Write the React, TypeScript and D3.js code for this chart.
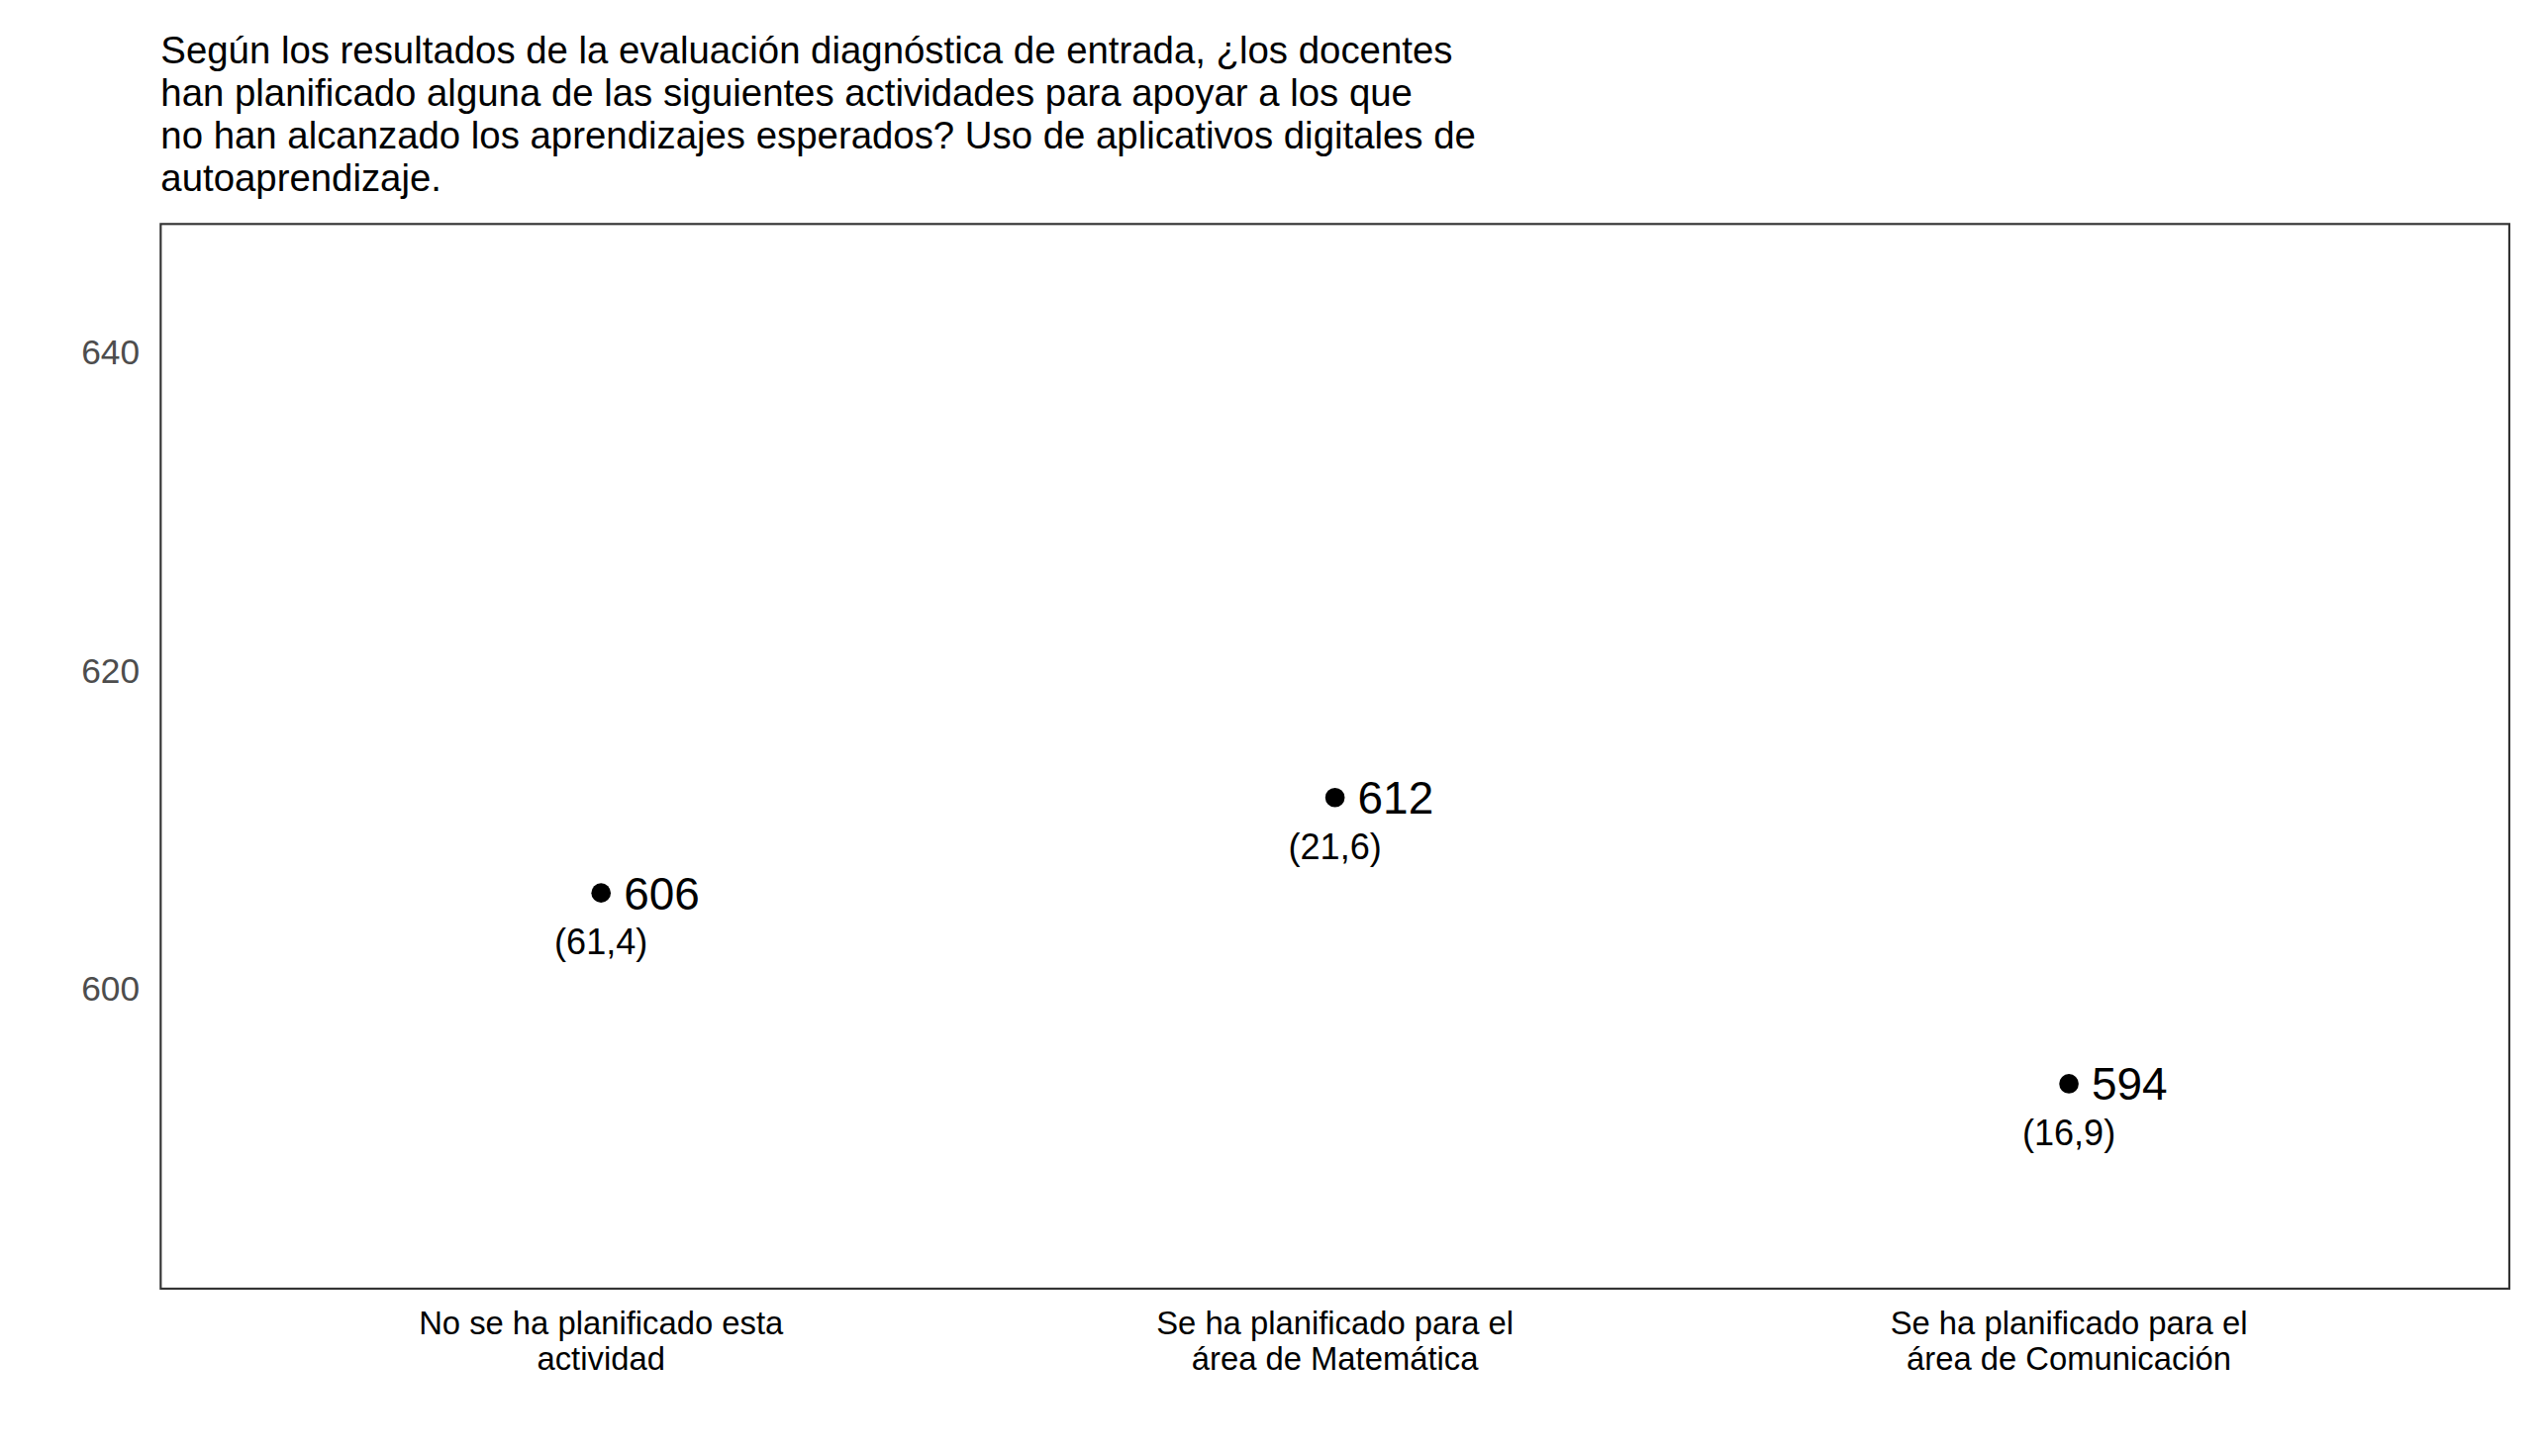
import React from "react";
import * as d3 from "d3";

const categories = ["No se ha planificado esta|actividad", "Se ha planificado para el|área de Matemática", "Se ha planificado para el|área de Comunicación"];
const values = [606, 612, 594];
const seLabels = ["(61,4)", "(21,6)", "(16,9)"];
const yTicks = [600, 620, 640];
const titleLines = [
  "Según los resultados de la evaluación diagnóstica de entrada, ¿los docentes",
  "han planificado alguna de las siguientes actividades para apoyar a los que",
  "no han alcanzado los aprendizajes esperados? Uso de aplicativos digitales de",
  "autoaprendizaje.",
];

export default function App() {
  const W = 1568, H = 897.1;
  const L = 99, R = 1546, T = 138, B = 794;
  const y = d3.scaleLinear().domain([581.12, 648.06]).range([B, T]);
  const x = d3.scalePoint().domain(categories).range([L, R]).padding(0.6);
  const font = "'Liberation Sans', Arial, sans-serif";
  return (
    <svg width={2571} height={1471} viewBox={`0 0 ${W} ${H}`} style={{ position: "absolute", left: 0, top: 0, background: "#fff" }} fontFamily={font}>
      <rect x={0} y={0} width={W} height={H} fill="#fff" />
      {titleLines.map((t, i) => (
        <text key={i} x={99} y={39 + i * 26.3} fontSize={23.4} fill="#000">{t}</text>
      ))}
      <rect x={L} y={T} width={R - L} height={B - T} fill="none" stroke="#333" strokeWidth={1.3} />
      {yTicks.map(t => (
        <text key={t} x={86} y={y(t)} dy="0.35em" textAnchor="end" fontSize={21.5} fill="#4d4d4d">{t}</text>
      ))}
      {categories.map((c, i) => {
        const cx = x(c)!;
        const cy = y(values[i]);
        return (
          <g key={c}>
            {c.split("|").map((ln, j) => (
              <text key={j} x={cx} y={822 + j * 22} textAnchor="middle" fontSize={20} fill="#000">{ln}</text>
            ))}
            <circle cx={cx} cy={cy} r={6} fill="#000" />
            <text x={cx + 14} y={cy} dy="0.36em" fontSize={28} fill="#000">{values[i]}</text>
            <text x={cx} y={cy + 30} dy="0.36em" textAnchor="middle" fontSize={22} fill="#000">{seLabels[i]}</text>
          </g>
        );
      })}
    </svg>
  );
}
